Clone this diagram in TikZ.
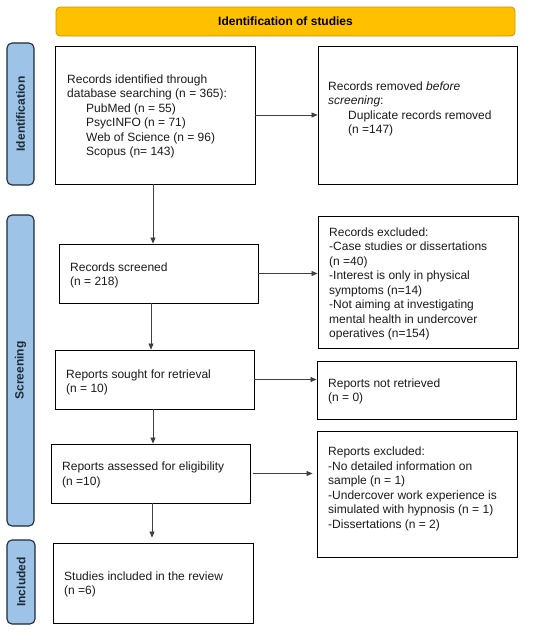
\documentclass[tikz,border=0pt]{standalone}
\usepackage{fontspec}
\setmainfont{Liberation Sans}
\usetikzlibrary{arrows.meta}
\definecolor{hdrfill}{HTML}{FFC000}
\definecolor{hdrdraw}{HTML}{C99700}
\definecolor{labfill}{HTML}{9DC3E6}
\definecolor{labdraw}{HTML}{1E2A38}
\definecolor{arrcol}{HTML}{404040}
\definecolor{txtcol}{HTML}{1A1A1A}
\begin{document}
\begin{tikzpicture}[x=1pt,y=-1pt,
  box/.style={draw=black,line width=0.9pt,rectangle,inner sep=0pt},
  hdr/.style={draw=hdrdraw,fill=hdrfill,line width=0.8pt,rounded corners=4pt,inner sep=0pt,
    font=\fontsize{12}{14.5}\selectfont\bfseries},
  lab/.style={draw=labdraw,fill=labfill,line width=1.1pt,rounded corners=5pt,inner sep=0pt,
    rotate=90,text=labdraw,font=\fontsize{12}{14.5}\selectfont\bfseries},
  txt/.style={anchor=north west,align=left,inner sep=0pt,text=txtcol,
    font=\fontsize{12}{14.5}\selectfont},
  arr/.style={draw=arrcol,line width=0.7pt,-{Triangle[length=6pt,width=5pt]}}]
\useasboundingbox (0,0) rectangle (550,632);

% header and side labels
\node[hdr,minimum width=459pt,minimum height=29pt] (head) at (285.5,21.5) {Identification of studies};
\node[lab,minimum width=142pt,minimum height=27pt] (lab1) at (20.5,114) {Identification};
\node[lab,minimum width=311pt,minimum height=27pt] (lab2) at (20.5,370.5) {Screening};
\node[lab,minimum width=84pt,minimum height=28pt] (lab3) at (21,582) {Included};

% boxes
\node[box,minimum width=200pt,minimum height=138pt] (b1) at (155,115) {};
\node[box,minimum width=199pt,minimum height=138pt] (b2) at (417.5,115) {};
\node[box,minimum width=199pt,minimum height=59pt] (b3) at (158.5,273.5) {};
\node[box,minimum width=200pt,minimum height=132pt] (b4) at (418,282) {};
\node[box,minimum width=199pt,minimum height=59pt] (b5) at (154.5,379.5) {};
\node[box,minimum width=199pt,minimum height=58pt] (b6) at (416.5,390) {};
\node[box,minimum width=199pt,minimum height=59pt] (b7) at (150.5,473.5) {};
\node[box,minimum width=200pt,minimum height=126pt] (b8) at (417,494) {};
\node[box,minimum width=200pt,minimum height=80pt] (b9) at (153,583) {};

% texts
\node[txt] (t1) at (67,73) {\strut Records identified through\\database searching (n = 365):\\
  \hspace*{19pt}PubMed (n = 55)\\\hspace*{19pt}PsycINFO (n = 71)\\
  \hspace*{19pt}Web of Science (n = 96)\\\hspace*{19pt}Scopus (n= 143)};
\node[txt] (t2) at (328,80) {\strut Records removed \textit{before}\\\textit{screening}:\\
  \hspace*{20pt}Duplicate records removed\\\hspace*{20pt}(n =147)};
\node[txt] (t3) at (70,261) {\strut Records screened\\(n = 218)};
\node[txt] (t4) at (329,226) {\strut Records excluded:\\-Case studies or dissertations\\(n =40)\\
  -Interest is only in physical\\symptoms (n=14)\\-Not aiming at investigating\\
  mental health in undercover\\operatives (n=154)};
\node[txt] (t5) at (66,368) {\strut Reports sought for retrieval\\(n = 10)};
\node[txt] (t6) at (328,377) {\strut Reports not retrieved\\(n = 0)};
\node[txt] (t7) at (62,460.5) {\strut Reports assessed for eligibility\\(n =10)};
\node[txt] (t8) at (328,445.5) {\strut Reports excluded:\\-No detailed information on\\sample (n = 1)\\
  -Undercover work experience is\\simulated with hypnosis (n = 1)\\-Dissertations (n = 2)};
\node[txt] (t9) at (64,570) {\strut Studies included in the review\\(n =6)};

% connectors
\draw[arr] (b1.east) -- (b2.west);
\draw[arr] ([xshift=-2pt]b1.south) -- ([xshift=-2pt]b1.south |- b3.north);
\draw[arr] (b3.east) -- (b3.east -| b4.west);
\draw[arr] ([xshift=-7.5pt]b3.south) -- ([xshift=-7.5pt]b3.south |- b5.north);
\draw[arr] (b5.east) -- (b5.east -| b6.west);
\draw[arr] ([xshift=-1.5pt]b5.south) -- ([xshift=-1.5pt]b5.south |- b7.north);
\draw[arr] ([xshift=3pt]b7.east) -- ([xshift=-4pt]b7.east -| b8.west);
\draw[arr] ([xshift=1.5pt]b7.south) -- ([xshift=1.5pt,yshift=5pt]b7.south |- b9.north);
\end{tikzpicture}
\end{document}
